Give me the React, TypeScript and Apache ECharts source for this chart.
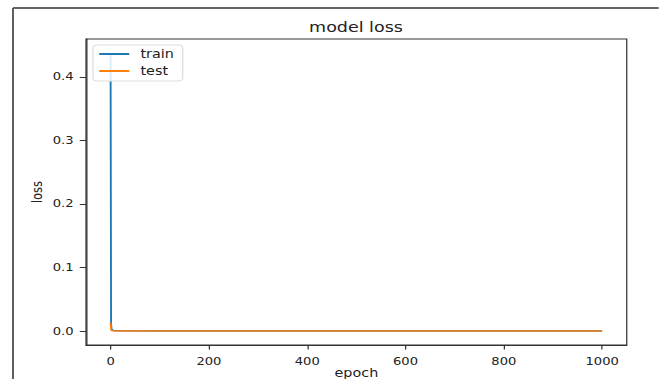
import React, { useEffect, useRef } from "react";
import * as echarts from "echarts";

const trainEpochs = [0, 1, 2, 5, 20, 100, 300, 600, 1000];
const trainLoss = [0.4375, 0.012, 0.003, 0.001, 0.0005, 0.0002, 0.0001, 0.0001, 0.0001];
const testEpochs = [0, 1, 2, 5, 20, 100, 300, 600, 1000];
const testLoss = [0.013, 0.002, 0.001, 0.0005, 0.0003, 0.0002, 0.0001, 0.0001, 0.0001];
const xTicks = [0, 200, 400, 600, 800, 1000];
const yTicks = [0, 0.1, 0.2, 0.3, 0.4];

const FONT = "DejaVu Sans";
const S = 1.25; // horizontal stretch of the reference picture
const W = 659 / S;

export default function App() {
  const ref = useRef<HTMLDivElement>(null);
  useEffect(() => {
    if (!ref.current) return;
    const chart = echarts.init(ref.current, undefined, { renderer: "svg" });
    const axisCommon = {
      axisLine: { show: true, onZero: false, lineStyle: { color: "#333", width: 1 } },
      splitLine: { show: false },
      nameMoveOverlap: false,
    };
    chart.setOption({
      animation: false,
      backgroundColor: "#fff",
      grid: {
        left: 86 / S, top: 39, right: 32 / S, bottom: 34,
        outerBoundsMode: "none", containLabel: false,
        show: true, borderColor: "#333", borderWidth: 1, backgroundColor: "transparent",
      },
      graphic: [
        { type: "line", shape: { x1: 13 / S, y1: 8, x2: W, y2: 8 }, style: { stroke: "#333", lineWidth: 1.5 } },
        { type: "line", shape: { x1: 13 / S, y1: 8, x2: 13 / S, y2: 379 }, style: { stroke: "#555", lineWidth: 1.5 } },
        { type: "text", x: 356 / S, y: 27.5, style: { text: "model loss", font: `14px ${FONT}`, fill: "#222", textAlign: "center", textVerticalAlign: "middle" } },
      ],
      legend: {
        orient: "vertical",
        left: 93 / S,
        top: 45,
        padding: [3, 7, 4, 5],
        itemGap: 5,
        itemWidth: 24,
        itemHeight: 2,
        icon: "rect",
        backgroundColor: "rgba(255,255,255,0.85)",
        borderColor: "#ddd",
        borderWidth: 1,
        borderRadius: 3,
        textStyle: { fontFamily: FONT, fontSize: 11.5, color: "#222", padding: [0, 0, 0, 4] },
        data: ["train", "test"],
      },
      xAxis: {
        type: "value",
        min: -50,
        max: 1050,
        name: "epoch",
        nameLocation: "middle",
        nameGap: 22,
        nameTextStyle: { fontFamily: FONT, fontSize: 11.5, color: "#222" },
        ...axisCommon,
        axisTick: { show: true, inside: false, length: 4.5, customValues: xTicks, lineStyle: { color: "#333" } },
        axisLabel: { customValues: xTicks, fontFamily: FONT, fontSize: 10.5, color: "#222", margin: 11, formatter: (v: number) => String(v) },
      },
      yAxis: {
        type: "value",
        min: -0.0219,
        max: 0.4594,
        name: "loss",
        nameLocation: "middle",
        nameGap: 33,
        nameTextStyle: { fontFamily: FONT, fontSize: 11.5, color: "#222" },
        ...axisCommon,
        axisTick: { show: true, inside: false, length: 5, customValues: yTicks, lineStyle: { color: "#333" } },
        axisLabel: { customValues: yTicks, fontFamily: FONT, fontSize: 10.5, color: "#222", margin: 10, formatter: (v: number) => v.toFixed(1) },
      },
      series: [
        {
          name: "train",
          type: "line",
          showSymbol: false,
          symbol: "none",
          data: trainEpochs.map((e, i) => [e, trainLoss[i]]),
          lineStyle: { color: "#1f77b4", width: 1.5 },
          itemStyle: { color: "#1f77b4" },
        },
        {
          name: "test",
          type: "line",
          showSymbol: false,
          symbol: "none",
          data: testEpochs.map((e, i) => [e, testLoss[i]]),
          lineStyle: { color: "#ff7f0e", width: 1.5 },
          itemStyle: { color: "#ff7f0e" },
        },
      ],
    });
    return () => chart.dispose();
  }, []);
  return (
    <div style={{ position: "fixed", left: 0, top: 0, width: 659, height: 379, overflow: "hidden", background: "#fff" }}>
      <div ref={ref} style={{ width: W, height: 379, transform: `scaleX(${S})`, transformOrigin: "0 0" }} />
    </div>
  );
}
